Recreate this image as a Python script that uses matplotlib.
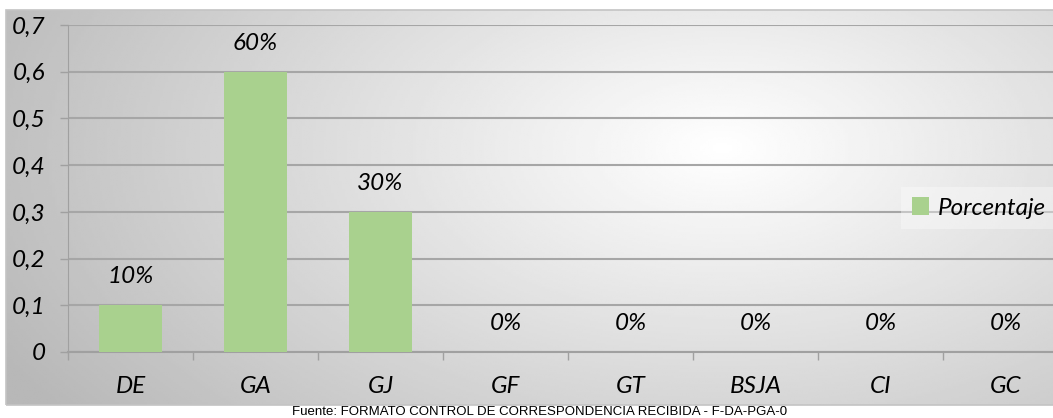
import numpy as np
import matplotlib
matplotlib.use("Agg")
import matplotlib.pyplot as plt
from matplotlib.patches import Rectangle

categorias = ["DE", "GA", "GJ", "GF", "GT", "BSJA", "CI", "GC"]
porcentaje = [0.1, 0.6, 0.3, 0, 0, 0, 0, 0]
etiquetas = ["10%", "60%", "30%", "0%", "0%", "0%", "0%", "0%"]
y_ticks = [0, 0.1, 0.2, 0.3, 0.4, 0.5, 0.6, 0.7]
fuente = "Fuente: FORMATO CONTROL DE CORRESPONDENCIA RECIBIDA - F-DA-PGA-0"

W, H = 1053, 418
verde = "#a9d18e"
fam = ["Lato", "DejaVu Sans"]
fs = 17.5

fig = plt.figure(figsize=(W / 100, H / 100), dpi=100)

# gradient background of the chart box
bx0, bx1, by0, by1 = 6, 1060, 10, 405
bg = fig.add_axes([bx0 / W, 1 - by1 / H, (bx1 - bx0) / W, (by1 - by0) / H])
xx, yy = np.meshgrid(np.linspace(0, 1, 400), np.linspace(0, 1, 200))
d = np.sqrt(((xx - 0.68) / 0.75) ** 2 + ((yy - 0.35) / 1.1) ** 2)
val = np.clip(1.0 - 0.27 * d, 0.72, 1.0)
bg.imshow(val, cmap="gray", vmin=0, vmax=1, aspect="auto", extent=[0, 1, 1, 0])
bg.set_xlim(0, 1)
bg.set_ylim(1, 0)
bg.axis("off")
fig.add_artist(Rectangle((bx0 / W, 1 - by1 / H), (bx1 - bx0) / W, (by1 - by0) / H,
                         transform=fig.transFigure, fill=False, ec="#c4c4c4", lw=1.2))

# plot area
x0, x1, y0, y1 = 68, 1068, 352, 25
ax = fig.add_axes([x0 / W, 1 - y0 / H, (x1 - x0) / W, (y0 - y1) / H])
ax.patch.set_alpha(0)
x = np.arange(len(categorias))
barras = ax.bar(x, porcentaje, width=0.5, color=verde, zorder=3, label="Porcentaje")
ax.set_xlim(-0.5, len(categorias) - 0.5)
ax.set_ylim(0, 0.7)
ax.set_yticks(y_ticks)
ax.set_yticklabels([f"{v:.1f}".replace(".", ",") if v else "0" for v in y_ticks],
                   fontsize=fs, style="italic", family=fam)
ax.set_xticks(x)
ax.set_xticklabels(categorias, fontsize=fs, style="italic", family=fam)
ax.set_xticks(np.arange(-0.5, len(categorias), 1), minor=True)
ax.tick_params(axis="x", which="major", length=0, pad=17)
ax.tick_params(axis="x", which="minor", length=6, color="#a0a0a0", width=1)
ax.tick_params(axis="y", length=6, color="#a0a0a0", width=1, pad=10)
ax.grid(axis="y", color="#a6a6a6", lw=1.5, zorder=1)
for s in ["top", "right"]:
    ax.spines[s].set_visible(False)
ax.spines["left"].set_color("#a0a0a0")
ax.spines["bottom"].set_color("#a0a0a0")
ax.spines["bottom"].set_linewidth(1.5)

for xi, v, t in zip(x, porcentaje, etiquetas):
    ax.annotate(t, (xi, v), xytext=(0, 13), textcoords="offset points",
                ha="center", va="bottom", fontsize=fs, style="italic", family=fam)

leg = ax.legend(loc="center left", bbox_to_anchor=((889 - x0) / (x1 - x0), (352 - 208) / (y0 - y1)),
                frameon=True, fancybox=False, framealpha=0.35, edgecolor="none",
                facecolor="white", handlelength=0.7, handleheight=0.7, handletextpad=0.35,
                prop={"family": fam, "style": "italic", "size": fs}, borderpad=0.45)

fig.text(540 / W, 1 - 412 / H, fuente, ha="center", va="center", fontsize=9.5,
         family=["Liberation Sans", "DejaVu Sans"])

fig.savefig("out.png", dpi=100)
